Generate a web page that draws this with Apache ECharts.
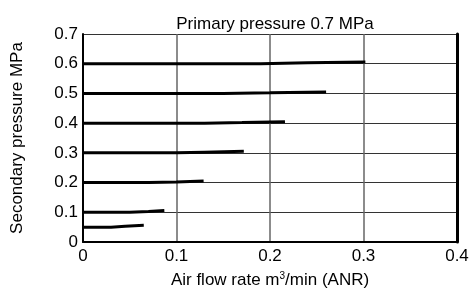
<html>
<head>
    <meta charset="utf-8">
    <title>ECharts</title>
    <script src="https://cdn.jsdelivr.net/npm/echarts@6/dist/echarts.min.js"></script>
</head>
<body style="margin:0">
    <div id="main" style="width: 469px;height:289px;"></div>
    <script type="text/javascript">
        // flow rate (m3/min) / secondary pressure (MPa)
        var curve005 = [[0, 0.050], [0.030, 0.050], [0.045, 0.053], [0.065, 0.056]];
        var curve01 = [[0, 0.100], [0.050, 0.100], [0.070, 0.103], [0.087, 0.106]];
        var curve02 = [[0, 0.200], [0.070, 0.200], [0.100, 0.202], [0.129, 0.205]];
        var curve03 = [[0, 0.300], [0.100, 0.300], [0.130, 0.302], [0.172, 0.305]];
        var curve04 = [[0, 0.400], [0.130, 0.400], [0.170, 0.402], [0.216, 0.405]];
        var curve05 = [[0, 0.500], [0.150, 0.500], [0.200, 0.502], [0.260, 0.505]];
        var curve06 = [[0, 0.600], [0.190, 0.600], [0.240, 0.603], [0.302, 0.606]];
        var curves = [curve005, curve01, curve02, curve03, curve04, curve05, curve06];

        var xTicks = ['0', '0.1', '0.2', '0.3', '0.4'];
        var yTicks = ['0', '0.1', '0.2', '0.3', '0.4', '0.5', '0.6', '0.7'];

        var font = 'Liberation Sans';
        var fs = 17;
        var myChart = echarts.init(document.getElementById('main'));

        var series = curves.map(function (c) {
            return {
                type: 'line',
                data: c,
                showSymbol: false,
                symbol: 'none',
                lineStyle: { color: '#000', width: 3 },
                animation: false
            };
        });

        var option = {
            animation: false,
            title: {
                text: 'Primary pressure 0.7 MPa',
                left: 270,
                textAlign: 'center',
                top: 11,
                textStyle: { fontFamily: font, fontSize: fs, fontWeight: 'normal', color: '#000' }
            },
            grid: { left: 83, right: 12, top: 34, bottom: 47, outerBoundsMode: 'none', containLabel: false },
            xAxis: {
                type: 'value',
                min: 0, max: 0.4, interval: 0.1,
                name: 'Air flow rate m{sup|3}/min (ANR)',
                nameLocation: 'middle',
                nameGap: 29,
                nameTextStyle: {
                    fontFamily: font, fontSize: fs, color: '#000',
                    rich: { sup: { fontFamily: font, fontSize: 10, color: '#000', padding: [0, 0, 9, 0] } }
                },
                axisLine: { show: true, lineStyle: { color: '#000', width: 2 } },
                axisTick: { show: false },
                axisLabel: {
                    margin: 6, fontFamily: font, fontSize: fs, color: '#000',
                    formatter: function (v) { return xTicks[Math.round(v * 10)]; }
                },
                splitLine: { show: true, lineStyle: { color: '#666', width: 1.5 } }
            },
            yAxis: [{
                type: 'value',
                min: 0, max: 0.7, interval: 0.1,
                name: 'Secondary pressure MPa',
                nameLocation: 'middle',
                nameGap: 57,
                nameTextStyle: { fontFamily: font, fontSize: fs, color: '#000' },
                axisLine: { show: true, lineStyle: { color: '#000', width: 2 } },
                axisTick: { show: false },
                axisLabel: {
                    margin: 5, fontFamily: font, fontSize: fs, color: '#000',
                    formatter: function (v) { return yTicks[Math.round(v * 10)]; }
                },
                splitLine: { show: true, lineStyle: { color: '#333', width: 1.2 } }
            }, {
                // thick right border
                type: 'value',
                position: 'right',
                min: 0, max: 0.7, interval: 0.1,
                axisLine: { show: true, lineStyle: { color: '#000', width: 3 } },
                axisTick: { show: false },
                axisLabel: { show: false },
                splitLine: { show: false }
            }],
            series: series
        };

        myChart.setOption(option);
    </script>
</body>
</html>
